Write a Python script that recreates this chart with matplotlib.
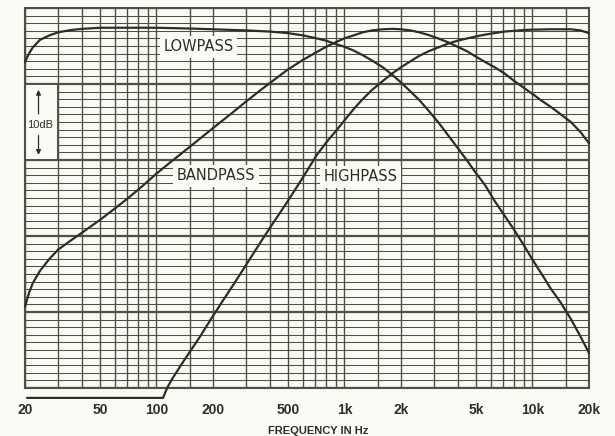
import matplotlib
matplotlib.use("Agg")
import matplotlib.pyplot as plt
from matplotlib.patches import Rectangle

# Frequency response of a state-variable filter, relative level in dB
lp_freq = [20, 21, 22, 24, 27, 30, 35, 40, 50, 70, 100, 150, 200, 300, 400,
           500, 600, 700, 800, 900, 1000, 1120, 1250, 1400, 1600, 1800, 2000,
           2250, 2500, 2800, 3150, 3550, 4000, 4500, 5000, 5600, 6300, 7100,
           8000, 9000, 10000, 11200, 12500, 14000, 16000, 18000, 20000]
lp_db = [-7.1, -6.0, -5.2, -4.2, -3.6, -3.2, -2.9, -2.75, -2.6, -2.6, -2.6,
         -2.7, -2.8, -2.95, -3.1, -3.3, -3.6, -3.95, -4.3, -4.75, -5.1, -5.6,
         -6.2, -6.9, -7.8, -8.8, -9.8, -11.0, -12.1, -13.5, -15.0, -16.7,
         -18.4, -20.1, -21.7, -23.3, -25.4, -27.3, -29.2, -31.2, -33.1, -35.0,
         -36.9, -38.6, -40.9, -43.2, -45.4]

bp_freq = [20, 21, 22, 24, 27, 30, 35, 40, 45, 50, 60, 70, 80, 90, 100, 120,
           150, 200, 250, 300, 350, 400, 450, 500, 600, 700, 800, 900, 1000,
           1120, 1250, 1400, 1600, 1800, 2000, 2250, 2500, 2800, 3150, 3550,
           4000, 4500, 5000, 5600, 6300, 7100, 8000, 9000, 10000, 11200,
           12500, 14000, 16000, 18000, 20000]
bp_db = [-39.3, -37.5, -36.2, -34.6, -33.0, -31.8, -30.6, -29.6, -28.7, -27.9,
         -26.4, -25.1, -23.9, -22.8, -21.8, -20.2, -18.3, -15.8, -13.9, -12.3,
         -11.0, -9.9, -8.95, -8.1, -6.85, -5.9, -5.1, -4.5, -4.0, -3.6, -3.2,
         -2.95, -2.8, -2.75, -2.8, -2.95, -3.2, -3.55, -4.0, -4.5, -5.1, -5.7,
         -6.4, -7.1, -7.8, -8.6, -9.6, -10.5, -11.3, -12.2, -13.0, -13.9,
         -15.0, -16.3, -17.8]

hp_freq = [20.5, 108.5, 114, 120, 135, 150, 170, 200, 230, 260, 300, 350, 400,
           450, 500, 560, 630, 710, 800, 900, 1000, 1120, 1250, 1400, 1600,
           1800, 2000, 2250, 2500, 2800, 3150, 3550, 4000, 4500, 5000, 5600,
           6300, 7100, 8000, 9000, 10000, 12500, 14000, 16000, 18000, 20000]
hp_db = [-51.3, -51.3, -50.0, -49.0, -47.0, -45.3, -43.3, -40.5, -38.2, -36.2,
         -33.8, -31.2, -29.0, -27.1, -25.4, -23.5, -21.5, -19.4, -17.7, -16.2,
         -14.8, -13.3, -12.0, -10.8, -9.6, -8.6, -7.8, -7.0, -6.3, -5.7, -5.2,
         -4.7, -4.3, -4.0, -3.75, -3.5, -3.3, -3.1, -3.0, -2.9, -2.85, -2.8,
         -2.8, -2.8, -2.95, -3.3]

tick_freqs = [20, 50, 100, 200, 500, 1000, 2000, 5000, 10000, 20000]
tick_labels = ["20", "50", "100", "200", "500", "1k", "2k", "5k", "10k", "20k"]
grid_steps = [1, 1.5, 2, 3, 4, 5, 6, 7, 8, 9]

ink = "#2e2e27"
grid_col = "#4f4f45"
paper = "#fbfbf6"
label_font = ["Liberation Sans", "DejaVu Sans"]

fig = plt.figure(figsize=(6.15, 4.36), dpi=100, facecolor=paper)
ax = fig.add_axes([25 / 615, 48 / 436, 564 / 615, 380 / 436])
ax.set_facecolor(paper)
ax.set_xscale("log")
ax.set_xlim(20, 20000)
ax.set_ylim(-50, 0)

# chart-paper grid
grid_x = [m * d for d in (10, 100, 1000, 10000) for m in grid_steps
          if 20 <= m * d <= 20000]
ax.set_xticks(tick_freqs)
ax.set_xticklabels(tick_labels)
ax.set_xticks(grid_x, minor=True)
ax.xaxis.set_minor_formatter(plt.NullFormatter())
ax.set_yticks(range(-50, 1, 10))
ax.set_yticks(range(-50, 1, 1), minor=True)
ax.yaxis.set_major_formatter(plt.NullFormatter())
ax.grid(which="both", axis="x", color=grid_col, lw=1.0)
ax.grid(which="minor", axis="y", color=grid_col, lw=0.75)
ax.grid(which="major", axis="y", color=grid_col, lw=1.6)
ax.set_axisbelow(True)
ax.tick_params(which="both", length=0)
ax.tick_params(axis="x", pad=11)
for lab in ax.get_xticklabels():
    lab.set_family(label_font)
    lab.set_fontweight("bold")
    lab.set_fontsize(10)
    lab.set_color(ink)
for sp in ax.spines.values():
    sp.set_color(grid_col)
    sp.set_linewidth(1.5)

# response curves
for f, db in ((lp_freq, lp_db), (bp_freq, bp_db), (hp_freq, hp_db)):
    ax.plot(f, db, color=ink, lw=1.6, zorder=5, clip_on=False,
            solid_joinstyle="round", solid_capstyle="round")

# curve names
box = dict(facecolor=paper, edgecolor="none", pad=2.5)
for txt, f, db in (("LOWPASS", 168, -5.1), ("BANDPASS", 207, -22.1),
                   ("HIGHPASS", 1225, -22.2)):
    ax.text(f, db, txt, ha="center", va="center", fontsize=10.5,
            color=ink, bbox=box, zorder=3)

# 10 dB scale marker
ax.add_patch(Rectangle((20, -20), 10, 10, facecolor=paper, edgecolor=grid_col,
                       lw=1.4, zorder=2))
ax.annotate("", xy=(23.6, -10.4), xytext=(23.6, -14.3),
            arrowprops=dict(arrowstyle="-|>", color=ink, lw=0.9,
                            mutation_scale=7), zorder=4)
ax.annotate("", xy=(23.6, -19.7), xytext=(23.6, -16.4),
            arrowprops=dict(arrowstyle="-|>", color=ink, lw=0.9,
                            mutation_scale=7), zorder=4)
ax.text(24.0, -15.35, "10dB", ha="center", va="center", fontsize=8,
        family=label_font, color=ink, zorder=4)

fig.text(318 / 615, 1 - 431 / 436, "FREQUENCY IN Hz", ha="center", va="center",
         fontsize=8, fontweight="bold", family=label_font, color=ink)

fig.savefig("out.png", dpi=100, facecolor=paper)
